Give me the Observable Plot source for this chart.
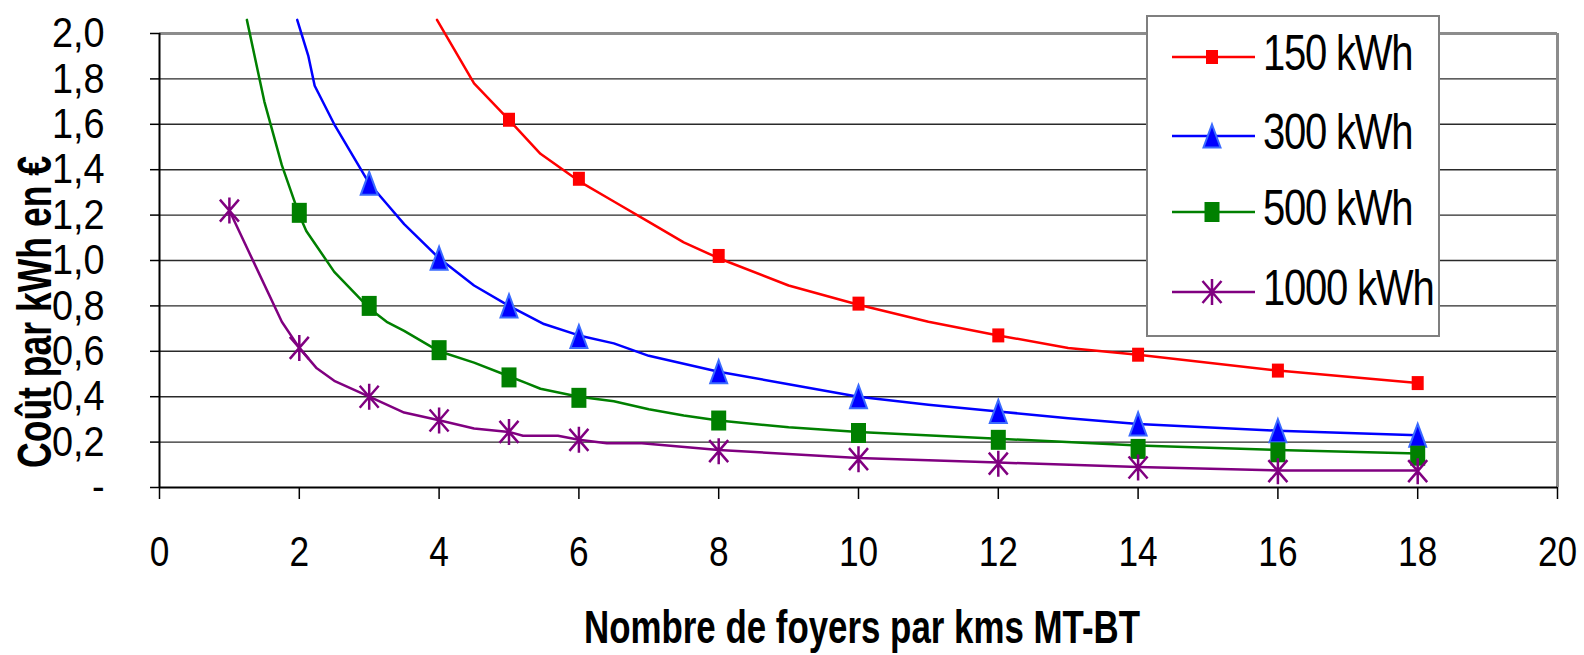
<!DOCTYPE html>
<html><head><meta charset="utf-8">
<script src="https://cdn.jsdelivr.net/npm/d3@7"></script>
<script src="https://cdn.jsdelivr.net/npm/@observablehq/plot@0.6"></script>
<style>body{margin:0;background:#fff;} svg{display:block}</style>
</head><body><div id="chart"></div>
<script>
// ---------- data ----------
const series = ["150 kWh", "300 kWh", "500 kWh", "1000 kWh"];
const colors = ["#ff0000", "#0000ff", "#008000", "#800080"];

// line vertices
const line150x = [3.97, 4.5, 5, 5.45, 6, 6.5, 7, 7.5, 8, 9, 10, 11, 12, 13, 14, 16, 18];
const line150y = [2.06, 1.78, 1.62, 1.47, 1.35, 1.26, 1.17, 1.08, 1.01, 0.89, 0.805, 0.73, 0.67, 0.615, 0.585, 0.515, 0.46];
const line300x = [1.97, 2.13, 2.22, 2.5, 3, 3.25, 3.5, 4, 4.5, 5, 5.5, 6, 6.5, 7, 8, 9, 10, 11, 12, 13, 14, 16, 18];
const line300y = [2.06, 1.90, 1.77, 1.60, 1.34, 1.25, 1.16, 1.01, 0.89, 0.80, 0.72, 0.67, 0.635, 0.58, 0.51, 0.455, 0.40, 0.365, 0.335, 0.305, 0.28, 0.25, 0.23];
const line500x = [1.25, 1.5, 1.75, 2, 2.1, 2.5, 3, 3.25, 3.5, 4, 4.5, 5, 5.25, 5.45, 6, 6.5, 7, 7.5, 8, 9, 10, 12, 14, 16, 18];
const line500y = [2.06, 1.70, 1.42, 1.2, 1.13, 0.95, 0.79, 0.73, 0.69, 0.60, 0.55, 0.49, 0.46, 0.435, 0.40, 0.38, 0.345, 0.317, 0.295, 0.265, 0.245, 0.215, 0.185, 0.165, 0.15];
const line1000x = [1, 1.75, 2, 2.25, 2.5, 3, 3.5, 4, 4.5, 5, 5.2, 5.7, 6, 6.4, 6.9, 8, 10, 12, 14, 16, 18];
const line1000y = [1.22, 0.73, 0.615, 0.525, 0.47, 0.40, 0.33, 0.296, 0.26, 0.245, 0.228, 0.228, 0.21, 0.195, 0.195, 0.165, 0.13, 0.11, 0.09, 0.075, 0.075];

// marker points
const mark150x = [5, 6, 8, 10, 12, 14, 16, 18];
const mark150y = [1.62, 1.36, 1.02, 0.81, 0.67, 0.585, 0.515, 0.46];
const mark300x = [3, 4, 5, 6, 8, 10, 12, 14, 16, 18];
const mark300y = [1.34, 1.01, 0.80, 0.665, 0.51, 0.40, 0.335, 0.28, 0.25, 0.23];
const mark500x = [2, 3, 4, 5, 6, 8, 10, 12, 14, 16, 18];
const mark500y = [1.21, 0.80, 0.605, 0.485, 0.395, 0.295, 0.24, 0.21, 0.17, 0.155, 0.14];
const mark1000x = [1, 2, 3, 4, 5, 6, 8, 10, 12, 14, 16, 18];
const mark1000y = [1.22, 0.615, 0.40, 0.295, 0.245, 0.21, 0.16, 0.125, 0.105, 0.088, 0.072, 0.072];

// ticks
const xTicks = [0, 2, 4, 6, 8, 10, 12, 14, 16, 18, 20];
const yTicks = [0, 0.2, 0.4, 0.6, 0.8, 1.0, 1.2, 1.4, 1.6, 1.8, 2.0];
const yTickLabels = ["-", "0,2", "0,4", "0,6", "0,8", "1,0", "1,2", "1,4", "1,6", "1,8", "2,0"];

const xTitle = "Nombre de foyers par kms MT-BT";
const yTitle = "Coût par kWh en €";

// ---------- build ----------
const lineX = [line150x, line300x, line500x, line1000x];
const lineY = [line150y, line300y, line500y, line1000y];
const markX = [mark150x, mark300x, mark500x, mark1000x];
const markY = [mark150y, mark300y, mark500y, mark1000y];

const shape = (pts) => ({draw(ctx) { ctx.moveTo(pts[0][0], pts[0][1]); for (let k = 1; k < pts.length; k++) ctx.lineTo(pts[k][0], pts[k][1]); ctx.closePath(); }});
const symRed = shape([[-6,-7],[6,-7],[6,7],[-6,7]]);
const symTri = shape([[0,-11.5],[8.5,11.5],[-8.5,11.5]]);
const symGreen = shape([[-7.5,-10],[7.5,-10],[7.5,10],[-7.5,10]]);
const symAst = {draw(ctx) { ctx.moveTo(0,-13); ctx.lineTo(0,13); ctx.moveTo(-9.5,-11); ctx.lineTo(9.5,11); ctx.moveTo(9.5,-11); ctx.lineTo(-9.5,11); }};
const symbols = [symRed, symTri, symGreen, symAst];
const symStyle = [
  {fill: "#ff0000", stroke: "none", strokeWidth: 0},
  {fill: "#0000ff", stroke: "#3a6bff", strokeWidth: 2},
  {fill: "#008000", stroke: "none", strokeWidth: 0},
  {fill: "none", stroke: "#800080", strokeWidth: 2.5}
];

const seriesMarks = [];
series.forEach((s, i) => {
  const lrows = lineX[i].map((x, j) => ({x, y: lineY[i][j]}));
  const mrows = markX[i].map((x, j) => ({x, y: markY[i][j]}));
  seriesMarks.push(Plot.line(lrows, {x: "x", y: "y", stroke: colors[i], strokeWidth: 2.5}));
  seriesMarks.push(Plot.dot(mrows, {x: "x", y: "y", symbol: symbols[i], r: 6, ...symStyle[i]}));
});

const chart = Plot.plot({
  width: 1584, height: 655,
  marginLeft: 159, marginRight: 27, marginTop: 33, marginBottom: 168,
  style: {fontFamily: "'Liberation Sans', Arial, sans-serif", background: "#fff", color: "#000", overflow: "visible"},
  x: {domain: [0, 20]},
  y: {domain: [0, 2]},
  marks: [
    Plot.ruleY(yTicks.filter(d => d > 0 && d < 2), {stroke: "#2a2a2a", strokeWidth: 1.4}),
    Plot.ruleY([2], {stroke: "#8c8c8c", strokeWidth: 3}),
    Plot.ruleX([20], {y1: 0, y2: 2, stroke: "#8c8c8c", strokeWidth: 3}),
    Plot.axisX({ticks: xTicks, tickSize: 12, tickPadding: 36, fontSize: 43, tickFormat: d => String(d), label: null, strokeWidth: 1.5}),
    Plot.axisY({ticks: yTicks, tickSize: 9, tickPadding: 46, fontSize: 43, tickFormat: d => yTickLabels[yTicks.indexOf(d)], label: null, strokeWidth: 1.5}),
    Plot.ruleX([0], {y1: 0, y2: 2, stroke: "#000", strokeWidth: 2}),
    Plot.ruleY([0], {stroke: "#000", strokeWidth: 2}),
    ...seriesMarks
  ]
});
document.getElementById("chart").appendChild(chart);

const svg = d3.select(chart);
function condense(sel, s) {
  sel.each(function() {
    const t = this.getAttribute("transform");
    if (t) this.setAttribute("transform", t + ` scale(${s},1)`);
    else {
      const x = +this.getAttribute("x") || 0, y = +this.getAttribute("y") || 0;
      this.setAttribute("x", 0); this.setAttribute("y", 0);
      this.setAttribute("transform", `translate(${x},${y}) scale(${s},1)`);
    }
  });
}
condense(svg.selectAll('g[aria-label="x-axis tick label"] text'), 0.82);
condense(svg.selectAll('g[aria-label="y-axis tick label"] text'), 0.88);

// axis titles
svg.append("text")
  .attr("x", 862).attr("y", 643)
  .attr("text-anchor", "middle")
  .attr("font-size", 46).attr("font-weight", "bold")
  .attr("textLength", 556).attr("lengthAdjust", "spacingAndGlyphs")
  .attr("fill", "#000")
  .text(xTitle);
svg.append("text")
  .attr("transform", "translate(51,312) rotate(-90)")
  .attr("text-anchor", "middle")
  .attr("font-size", 48).attr("font-weight", "bold")
  .attr("textLength", 312).attr("lengthAdjust", "spacingAndGlyphs")
  .attr("fill", "#000")
  .text(yTitle);

// legend
const lg = svg.append("g");
lg.append("rect").attr("x", 1147).attr("y", 16).attr("width", 292).attr("height", 320)
  .attr("fill", "#fff").attr("stroke", "#7f7f7f").attr("stroke-width", 2);
const rowY = [57, 136, 212, 292];
series.forEach((s, i) => {
  const y = rowY[i];
  lg.append("line").attr("x1", 1172).attr("x2", 1255).attr("y1", y).attr("y2", y)
    .attr("stroke", colors[i]).attr("stroke-width", 2.5);
  lg.append("path").attr("d", d3.symbol(symbols[i])())
    .attr("transform", `translate(1212,${y})`)
    .attr("fill", symStyle[i].fill).attr("stroke", symStyle[i].stroke)
    .attr("stroke-width", symStyle[i].strokeWidth);
  lg.append("text").attr("transform", `translate(1263,${y + 13}) scale(0.8,1)`)
    .attr("text-anchor", "start")
    .attr("font-size", 50).attr("fill", "#000").attr("letter-spacing", -1.5)
    .text(s);
});
</script>
</body></html>
